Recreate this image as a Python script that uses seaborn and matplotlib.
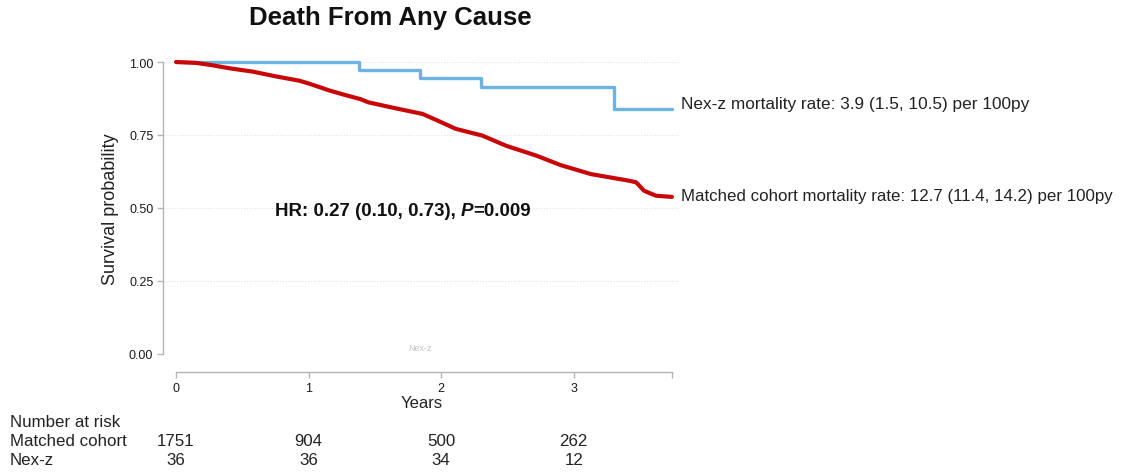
import matplotlib
matplotlib.use("Agg")
import matplotlib.pyplot as plt
import matplotlib.transforms as mtransforms
import numpy as np
import pandas as pd
import seaborn as sns

# Kaplan-Meier estimates (years, survival probability)
nexz_time = [0.0, 1.38, 1.84, 2.30, 3.30, 3.74]
nexz_surv = [1.0, 0.972, 0.944, 0.914, 0.838, 0.838]

matched_time = [0.0, 0.15, 0.26, 0.41, 0.58, 0.75, 0.93, 1.01, 1.16, 1.275, 1.39,
                1.45, 1.62, 1.86, 1.97, 2.11, 2.31, 2.49, 2.72, 2.90, 3.13, 3.41,
                3.47, 3.53, 3.62, 3.74]
matched_surv = [1.0, 0.997, 0.990, 0.978, 0.967, 0.951, 0.936, 0.925, 0.902, 0.887, 0.873,
                0.862, 0.845, 0.822, 0.800, 0.771, 0.748, 0.713, 0.679, 0.647, 0.616, 0.594,
                0.588, 0.559, 0.542, 0.538]

# Number-at-risk table
risk_times = [0, 1, 2, 3]
risk_matched = [1751, 904, 500, 262]
risk_nexz = [36, 36, 34, 12]

y_ticks = [0.0, 0.25, 0.50, 0.75, 1.00]
x_ticks = [0, 1, 2, 3]
x_end = 3.74

title = "Death From Any Cause"
nexz_label = "Nex-z mortality rate: 3.9 (1.5, 10.5) per 100py"
matched_label = "Matched cohort mortality rate: 12.7 (11.4, 14.2) per 100py"

sns.set_style("white")
plt.rcParams["font.family"] = ["Liberation Sans", "DejaVu Sans"]

W, H = 1132, 477
fig = plt.figure(figsize=(W / 100, H / 100), dpi=100)
ax = fig.add_axes([163 / W, (H - 355) / H, (680 - 163) / W, 292 / H])

RED = "#c80808"
BLUE = "#6cb3e2"

df_nexz = pd.DataFrame({"time": nexz_time, "surv": nexz_surv})
df_matched = pd.DataFrame({"time": matched_time, "surv": matched_surv})

sns.lineplot(data=df_nexz, x="time", y="surv", ax=ax, color=BLUE, linewidth=2.4,
             drawstyle="steps-post", estimator=None, clip_on=False, zorder=3)
sns.lineplot(data=df_matched, x="time", y="surv", ax=ax, color=RED, linewidth=3.0,
             estimator=None, clip_on=False, zorder=4)

ax.set_xlim(-13 / 132.6, (680 - 176) / 132.6)
ax.set_ylim(0, 1.0)

# Faint dotted reference lines
for yv in y_ticks[1:]:
    ax.axhline(yv, color="#e2e2e2", linewidth=0.8, linestyle=(0, (1, 1.5)), zorder=1)

# Spines: offset axes in the style of a survival plot
for side in ["top", "right"]:
    ax.spines[side].set_visible(False)
ax.spines["left"].set_bounds(0, 1)
ax.spines["bottom"].set_position(("outward", 13))
ax.spines["bottom"].set_bounds(0, x_end)
for side in ["left", "bottom"]:
    ax.spines[side].set_color("#b5b5b5")
    ax.spines[side].set_linewidth(1.0)

ax.set_yticks(y_ticks)
ax.set_yticklabels([f"{v:.2f}" for v in y_ticks])
ax.set_xticks(x_ticks + [x_end])
ax.set_xticklabels([str(v) for v in x_ticks] + [""])
ax.tick_params(axis="both", which="major", length=4, width=1.0, color="#b5b5b5",
               labelsize=9, labelcolor="#1a1a1a", direction="out", pad=3)
ax.tick_params(axis="x", bottom=True)
ax.tick_params(axis="y", left=True)

ax.set_xlabel("Years", fontsize=12, color="#222222", labelpad=1)
ax.set_ylabel("Survival probability", fontsize=13, color="#222222", labelpad=7)


def ftext(x, y, s, **kw):
    return fig.text(x / W, 1 - y / H, s, **kw)


ftext(390, 18, title, fontsize=18.5, fontweight="bold", ha="center", va="center",
      color="#111111")

# Curve annotations at the end of each line
ftext(681, 105, nexz_label, fontsize=12.4, ha="left", va="center", color="#222222")
ftext(681, 197, matched_label, fontsize=12.2, ha="left", va="center", color="#222222")

# Hazard ratio with italic P
fig.canvas.draw()
renderer = fig.canvas.get_renderer()
x0, yhr = 275, 212
parts = [("HR: 0.27 (0.10, 0.73), ", "normal"), ("P", "italic"), ("=0.009", "normal")]
xcur = x0
for s, style in parts:
    t = ftext(xcur, yhr, s, fontsize=13.5, fontweight="bold", fontstyle=style,
              ha="left", va="center", color="#111111")
    bb = t.get_window_extent(renderer)
    xcur += bb.width

# Faint legend remnant near the axis
ftext(420, 349, "Nex-z", fontsize=6.5, ha="center", va="center", color="#9a9a9a", alpha=0.6)

# Number at risk table
trans = mtransforms.blended_transform_factory(ax.transData, fig.transFigure)
ftext(10, 423, "Number at risk", fontsize=12.2, ha="left", va="center", color="#222222")
ftext(10, 442, "Matched cohort", fontsize=12.2, ha="left", va="center", color="#222222")
ftext(10, 461, "Nex-z", fontsize=12.2, ha="left", va="center", color="#222222")
for t, n in zip(risk_times, risk_matched):
    ax.text(t, 1 - 442 / H, str(n), transform=trans, fontsize=12.2, ha="center",
            va="center", color="#222222")
for t, n in zip(risk_times, risk_nexz):
    ax.text(t, 1 - 461 / H, str(n), transform=trans, fontsize=12.2, ha="center",
            va="center", color="#222222")

fig.savefig("out.png", dpi=100, facecolor="white")
